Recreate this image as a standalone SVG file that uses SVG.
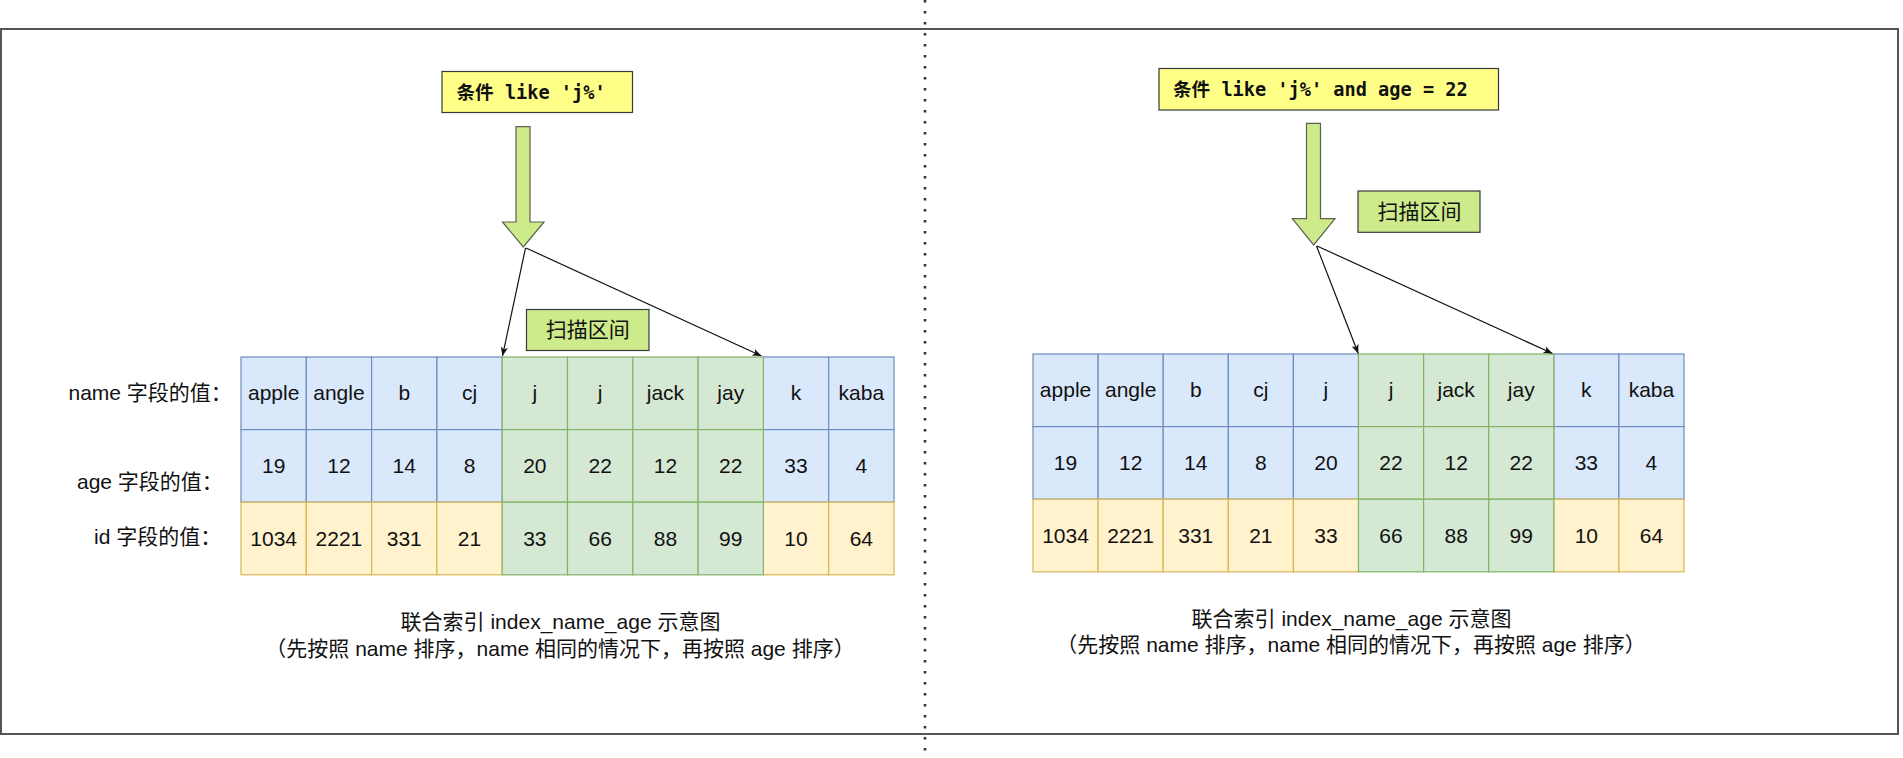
<svg xmlns="http://www.w3.org/2000/svg" width="1903" height="758" viewBox="0 0 1903 758">
<style>
.t{font-family:"Liberation Sans","Noto Sans CJK SC",sans-serif;font-size:21px;fill:#111;}
.c{text-anchor:middle;}
.m{font-family:"DejaVu Sans Mono","Liberation Mono","Noto Sans CJK SC",monospace;font-size:18.6px;font-weight:bold;fill:#111;}
.b{fill:#dae8fc;stroke:#6c8ebf;stroke-width:1.2;}
.y{fill:#fff2cc;stroke:#d6b656;stroke-width:1.2;}
.g{fill:#d5e8d4;stroke:#82b366;stroke-width:1.2;}
.cond{fill:#ffff88;stroke:#36393d;stroke-width:1.2;}
.scan{fill:#cdeb8b;stroke:#36393d;stroke-width:1.2;}
.fat{fill:#cdeb8b;stroke:#5e6150;stroke-width:1.2;}
.ln{fill:none;stroke:#111;stroke-width:1.2;marker-end:url(#ah);}
</style>
<defs>
<marker id="ah" viewBox="0 0 10 10" refX="10" refY="5" markerWidth="10" markerHeight="9" markerUnits="userSpaceOnUse" orient="auto">
<path d="M0,1 L10,5 L0,9 L2.5,5 Z" fill="#111"/>
</marker>
</defs>
<rect width="1903" height="758" fill="#fff"/>
<g id="frame">
<rect x="1" y="29" width="1897" height="705" fill="none" stroke="#555" stroke-width="2"/>
<line x1="925" y1="0" x2="925" y2="758" stroke="#333" stroke-width="2.6" stroke-dasharray="2.6 8.4"/>
</g>

<g id="left-condition">
<rect class="cond" x="442" y="71.5" width="190.5" height="41"/>
<text class="m" x="456.5" y="98.8">条件 like 'j%'</text>
</g>
<g id="left-fat-arrow">
<path class="fat" d="M516,126.7 L530,126.7 L530,222 L544,222 L523.3,247 L502.5,222 L516,222 Z"/>
</g>
<g id="left-scan">
<rect class="scan" x="526.5" y="309.5" width="122.5" height="41"/>
<text class="t c" x="587.7" y="337">扫描区间</text>
</g>
<g id="left-labels">
<text class="t" x="68.5" y="400.3">name 字段的值：</text>
<text class="t" x="77" y="488.7">age 字段的值：</text>
<text class="t" x="94" y="543.7">id 字段的值：</text>
</g>
<g id="left-table">
<rect class="b" x="241" y="357" width="65.3" height="72.6"/>
<rect class="b" x="306.3" y="357" width="65.3" height="72.6"/>
<rect class="b" x="371.6" y="357" width="65.3" height="72.6"/>
<rect class="b" x="436.9" y="357" width="65.3" height="72.6"/>
<rect class="b" x="763.4" y="357" width="65.3" height="72.6"/>
<rect class="b" x="828.7" y="357" width="65.3" height="72.6"/>
<rect class="b" x="241" y="429.6" width="65.3" height="72.6"/>
<rect class="b" x="306.3" y="429.6" width="65.3" height="72.6"/>
<rect class="b" x="371.6" y="429.6" width="65.3" height="72.6"/>
<rect class="b" x="436.9" y="429.6" width="65.3" height="72.6"/>
<rect class="b" x="763.4" y="429.6" width="65.3" height="72.6"/>
<rect class="b" x="828.7" y="429.6" width="65.3" height="72.6"/>
<rect class="y" x="241" y="502.2" width="65.3" height="72.6"/>
<rect class="y" x="306.3" y="502.2" width="65.3" height="72.6"/>
<rect class="y" x="371.6" y="502.2" width="65.3" height="72.6"/>
<rect class="y" x="436.9" y="502.2" width="65.3" height="72.6"/>
<rect class="y" x="763.4" y="502.2" width="65.3" height="72.6"/>
<rect class="y" x="828.7" y="502.2" width="65.3" height="72.6"/>
<rect class="g" x="502.2" y="357" width="65.3" height="72.6"/>
<rect class="g" x="567.5" y="357" width="65.3" height="72.6"/>
<rect class="g" x="632.8" y="357" width="65.3" height="72.6"/>
<rect class="g" x="698.1" y="357" width="65.3" height="72.6"/>
<rect class="g" x="502.2" y="429.6" width="65.3" height="72.6"/>
<rect class="g" x="567.5" y="429.6" width="65.3" height="72.6"/>
<rect class="g" x="632.8" y="429.6" width="65.3" height="72.6"/>
<rect class="g" x="698.1" y="429.6" width="65.3" height="72.6"/>
<rect class="g" x="502.2" y="502.2" width="65.3" height="72.6"/>
<rect class="g" x="567.5" y="502.2" width="65.3" height="72.6"/>
<rect class="g" x="632.8" y="502.2" width="65.3" height="72.6"/>
<rect class="g" x="698.1" y="502.2" width="65.3" height="72.6"/>
<g class="t c">
<text x="273.65" y="400.3">apple</text><text x="338.95" y="400.3">angle</text><text x="404.25" y="400.3">b</text><text x="469.55" y="400.3">cj</text><text x="534.85" y="400.3">j</text><text x="600.15" y="400.3">j</text><text x="665.45" y="400.3">jack</text><text x="730.75" y="400.3">jay</text><text x="796.05" y="400.3">k</text><text x="861.35" y="400.3">kaba</text>
<text x="273.65" y="472.9">19</text><text x="338.95" y="472.9">12</text><text x="404.25" y="472.9">14</text><text x="469.55" y="472.9">8</text><text x="534.85" y="472.9">20</text><text x="600.15" y="472.9">22</text><text x="665.45" y="472.9">12</text><text x="730.75" y="472.9">22</text><text x="796.05" y="472.9">33</text><text x="861.35" y="472.9">4</text>
<text x="273.65" y="545.5">1034</text><text x="338.95" y="545.5">2221</text><text x="404.25" y="545.5">331</text><text x="469.55" y="545.5">21</text><text x="534.85" y="545.5">33</text><text x="600.15" y="545.5">66</text><text x="665.45" y="545.5">88</text><text x="730.75" y="545.5">99</text><text x="796.05" y="545.5">10</text><text x="861.35" y="545.5">64</text>
</g>
</g>
<g id="left-caption" class="t c">
<text x="560.5" y="629">联合索引 index_name_age 示意图</text>
<text x="560" y="655.5">（先按照 name 排序，name 相同的情况下，再按照 age 排序）</text>
</g>

<g id="right-condition">
<rect class="cond" x="1159" y="68.5" width="339.5" height="41.5"/>
<text class="m" x="1173" y="95.8">条件 like 'j%' and age = 22</text>
</g>
<g id="right-fat-arrow">
<path class="fat" d="M1306.5,123.3 L1320.5,123.3 L1320.5,218.7 L1335,218.7 L1313.7,245 L1292.3,218.7 L1306.5,218.7 Z"/>
</g>
<g id="right-scan">
<rect class="scan" x="1358" y="191" width="122" height="41.3"/>
<text class="t c" x="1419.5" y="218.5">扫描区间</text>
</g>
<g id="right-table">
<rect class="b" x="1033" y="354" width="65.1" height="72.6"/>
<rect class="b" x="1098.1" y="354" width="65.1" height="72.6"/>
<rect class="b" x="1163.2" y="354" width="65.1" height="72.6"/>
<rect class="b" x="1228.3" y="354" width="65.1" height="72.6"/>
<rect class="b" x="1293.4" y="354" width="65.1" height="72.6"/>
<rect class="b" x="1553.8" y="354" width="65.1" height="72.6"/>
<rect class="b" x="1618.9" y="354" width="65.1" height="72.6"/>
<rect class="b" x="1033" y="426.6" width="65.1" height="72.6"/>
<rect class="b" x="1098.1" y="426.6" width="65.1" height="72.6"/>
<rect class="b" x="1163.2" y="426.6" width="65.1" height="72.6"/>
<rect class="b" x="1228.3" y="426.6" width="65.1" height="72.6"/>
<rect class="b" x="1293.4" y="426.6" width="65.1" height="72.6"/>
<rect class="b" x="1553.8" y="426.6" width="65.1" height="72.6"/>
<rect class="b" x="1618.9" y="426.6" width="65.1" height="72.6"/>
<rect class="y" x="1033" y="499.2" width="65.1" height="72.6"/>
<rect class="y" x="1098.1" y="499.2" width="65.1" height="72.6"/>
<rect class="y" x="1163.2" y="499.2" width="65.1" height="72.6"/>
<rect class="y" x="1228.3" y="499.2" width="65.1" height="72.6"/>
<rect class="y" x="1293.4" y="499.2" width="65.1" height="72.6"/>
<rect class="y" x="1553.8" y="499.2" width="65.1" height="72.6"/>
<rect class="y" x="1618.9" y="499.2" width="65.1" height="72.6"/>
<rect class="g" x="1358.5" y="354" width="65.1" height="72.6"/>
<rect class="g" x="1423.6" y="354" width="65.1" height="72.6"/>
<rect class="g" x="1488.7" y="354" width="65.1" height="72.6"/>
<rect class="g" x="1358.5" y="426.6" width="65.1" height="72.6"/>
<rect class="g" x="1423.6" y="426.6" width="65.1" height="72.6"/>
<rect class="g" x="1488.7" y="426.6" width="65.1" height="72.6"/>
<rect class="g" x="1358.5" y="499.2" width="65.1" height="72.6"/>
<rect class="g" x="1423.6" y="499.2" width="65.1" height="72.6"/>
<rect class="g" x="1488.7" y="499.2" width="65.1" height="72.6"/>
<g class="t c">
<text x="1065.55" y="397.3">apple</text><text x="1130.65" y="397.3">angle</text><text x="1195.75" y="397.3">b</text><text x="1260.85" y="397.3">cj</text><text x="1325.95" y="397.3">j</text><text x="1391.05" y="397.3">j</text><text x="1456.15" y="397.3">jack</text><text x="1521.25" y="397.3">jay</text><text x="1586.35" y="397.3">k</text><text x="1651.45" y="397.3">kaba</text>
<text x="1065.55" y="469.9">19</text><text x="1130.65" y="469.9">12</text><text x="1195.75" y="469.9">14</text><text x="1260.85" y="469.9">8</text><text x="1325.95" y="469.9">20</text><text x="1391.05" y="469.9">22</text><text x="1456.15" y="469.9">12</text><text x="1521.25" y="469.9">22</text><text x="1586.35" y="469.9">33</text><text x="1651.45" y="469.9">4</text>
<text x="1065.55" y="542.5">1034</text><text x="1130.65" y="542.5">2221</text><text x="1195.75" y="542.5">331</text><text x="1260.85" y="542.5">21</text><text x="1325.95" y="542.5">33</text><text x="1391.05" y="542.5">66</text><text x="1456.15" y="542.5">88</text><text x="1521.25" y="542.5">99</text><text x="1586.35" y="542.5">10</text><text x="1651.45" y="542.5">64</text>
</g>
</g>
<g id="right-caption" class="t c">
<text x="1351.5" y="625.5">联合索引 index_name_age 示意图</text>
<text x="1351" y="652">（先按照 name 排序，name 相同的情况下，再按照 age 排序）</text>
</g>

<g id="connectors">
<line class="ln" x1="525.5" y1="248" x2="502.5" y2="356"/>
<line class="ln" x1="526" y1="248" x2="761.5" y2="356"/>
<line class="ln" x1="1316.5" y1="246" x2="1358.3" y2="353.5"/>
<line class="ln" x1="1317" y1="246" x2="1552.5" y2="353.5"/>
</g>
</svg>
